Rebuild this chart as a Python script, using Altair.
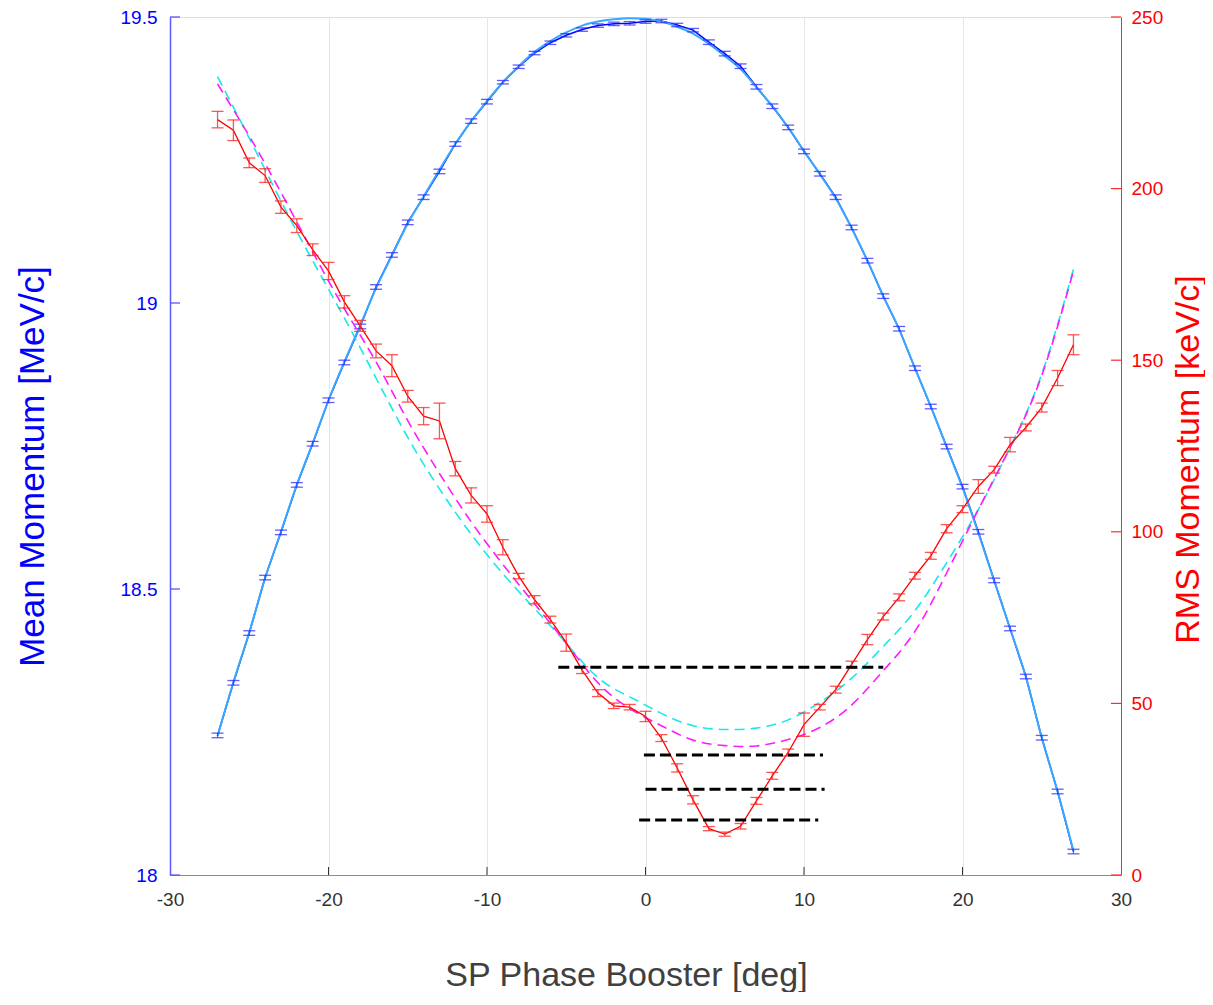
import altair as alt
import pandas as pd

# ---------------- data ----------------
phase = list(range(-27, 28))

mean_p = [18.244, 18.336, 18.423, 18.520, 18.599, 18.682, 18.754, 18.830, 18.896, 18.959,
          19.028, 19.084, 19.141, 19.185, 19.230, 19.278, 19.318, 19.352, 19.386, 19.413,
          19.437, 19.455, 19.468, 19.478, 19.485, 19.488, 19.489, 19.492, 19.493, 19.486,
          19.477, 19.456, 19.436, 19.414, 19.378, 19.344, 19.307, 19.265, 19.226, 19.185,
          19.132, 19.074, 19.012, 18.955, 18.886, 18.819, 18.749, 18.679, 18.600, 18.515,
          18.431, 18.347, 18.240, 18.146, 18.041]
mean_err = [0.004, 0.004, 0.004, 0.004, 0.004, 0.004, 0.004, 0.004, 0.004, 0.004,
            0.004, 0.004, 0.004, 0.004, 0.004, 0.004, 0.004, 0.004, 0.003, 0.003,
            0.003, 0.003, 0.003, 0.003, 0.003, 0.003, 0.003, 0.003, 0.003, 0.003,
            0.003, 0.004, 0.004, 0.004, 0.004, 0.004, 0.004, 0.004, 0.004, 0.004,
            0.004, 0.004, 0.004, 0.004, 0.004, 0.004, 0.004, 0.004, 0.004, 0.004,
            0.004, 0.004, 0.004, 0.004, 0.004]
mean_fit = [18.243, 18.337, 18.424, 18.519, 18.600, 18.682, 18.755, 18.830, 18.897, 18.961,
            19.026, 19.083, 19.139, 19.186, 19.233, 19.278, 19.318, 19.353, 19.386, 19.414,
            19.439, 19.458, 19.473, 19.485, 19.492, 19.496, 19.498, 19.497, 19.492, 19.483,
            19.471, 19.453, 19.432, 19.409, 19.377, 19.344, 19.307, 19.266, 19.225, 19.183,
            19.131, 19.074, 19.012, 18.954, 18.886, 18.819, 18.748, 18.677, 18.598, 18.514,
            18.431, 18.346, 18.240, 18.146, 18.042]

rms_p = [220.1, 217.0, 207.5, 203.8, 194.6, 189.2, 182.2, 176.0, 167.0, 160.0,
         152.7, 148.4, 139.5, 133.7, 132.3, 118.4, 110.6, 105.2, 95.5, 87.1,
         80.2, 74.4, 67.7, 59.7, 53.0, 49.3, 48.9, 46.2, 39.9, 31.2,
         21.9, 13.5, 11.9, 14.2, 21.6, 28.9, 35.7, 43.8, 48.9, 54.0,
         61.3, 68.6, 75.3, 80.9, 87.2, 93.0, 100.9, 106.6, 113.2, 118.1,
         125.4, 130.4, 136.2, 144.8, 154.5]
rms_err = [2.4, 3.0, 1.4, 2.0, 1.8, 2.0, 1.7, 2.5, 1.8, 1.6,
           2.0, 3.2, 1.7, 2.5, 5.2, 2.1, 2.2, 2.4, 2.2, 0.8,
           1.2, 1.0, 2.5, 1.0, 1.0, 0.8, 0.8, 1.5, 1.0, 1.2,
           1.2, 0.6, 0.6, 0.8, 1.0, 1.0, 1.0, 3.4, 0.8, 1.0,
           1.0, 1.5, 1.0, 1.0, 1.0, 1.0, 1.2, 1.0, 2.0, 1.0,
           2.1, 1.0, 1.3, 2.2, 2.9]

fit_x = [-27, -25, -23, -21, -19, -17, -15, -13, -11, -9, -7, -5, -3, -1,
         1, 3, 5, 7, 9, 11, 13, 15, 17, 19, 21, 23, 25, 27]
fit_cyan = [232.6, 214.7, 196.4, 179.0, 162.3, 144.8, 127.5, 112.5, 99.3, 87.8, 77.6, 67.5, 57.5, 51.9,
            47.1, 43.5, 42.4, 42.8, 45.2, 50.3, 57.3, 66.6, 77.0, 91.0, 106.5, 124.5, 146.0, 176.5]
fit_magenta = [230.5, 215.3, 198.9, 181.6, 165.0, 149.5, 132.4, 117.0, 102.9, 90.5, 79.0, 67.5, 56.0, 48.5,
               43.5, 39.3, 37.7, 37.6, 39.5, 43.0, 49.5, 59.5, 71.0, 88.0, 106.5, 124.5, 145.5, 176.0]

level_y = [60.5, 35.0, 25.0, 16.0]
level_x1 = [-5.5, -0.1, 0.0, -0.4]
level_x2 = [15.0, 11.2, 11.3, 10.9]

x_ticks = [-30, -20, -10, 0, 10, 20, 30]
left_ticks = [18, 18.5, 19, 19.5]
right_ticks = [0, 50, 100, 150, 200, 250]

# ---------------- tables ----------------
mean_df = pd.DataFrame({"x": phase, "v": mean_p, "fit": mean_fit,
                        "lo": [a - b for a, b in zip(mean_p, mean_err)],
                        "hi": [a + b for a, b in zip(mean_p, mean_err)]})
rms_df = pd.DataFrame({"x": phase, "v": rms_p,
                       "lo": [a - b for a, b in zip(rms_p, rms_err)],
                       "hi": [a + b for a, b in zip(rms_p, rms_err)]})
fit_df = pd.DataFrame({"x": fit_x, "c": fit_cyan, "m": fit_magenta})
lvl_df = pd.DataFrame({"y": level_y, "x1": level_x1, "x2": level_x2})
xt_df = pd.DataFrame({"v": x_ticks[1:-1]})
lt_df = pd.DataFrame({"v": left_ticks})
rt_df = pd.DataFrame({"v": right_ticks})

W, H = 951, 858
FONT = "Liberation Sans"

XD = [-30, 30]
LD = [18, 19.5]
RD = [0, 250]

x_axis = alt.Axis(values=x_ticks, grid=True, gridColor="#e6e6e6", ticks=False,
                  domainColor="#8c8c8c", labelFlush=False,
                  labelColor="#333333", labelFontSize=19, labelFont=FONT, labelPadding=15,
                  labelExpr="datum.value + ''",
                  title="SP Phase Booster [deg]", titleFont=FONT, titleFontSize=34,
                  titleFontWeight="normal", titleColor="#404040",
                  titleX=456, titleY=110, titleBaseline="alphabetic")

left_axis = alt.Axis(orient="left", values=left_ticks, grid=False, ticks=False,
                     domainColor="#5a5aff", domainWidth=1.5, labelFlush=False,
                     labelColor="#0000ff", labelFontSize=19, labelFont=FONT, labelPadding=13,
                     labelExpr="datum.value + ''",
                     title="Mean Momentum [MeV/c]", titleFont=FONT, titleFontSize=35,
                     titleFontWeight="normal", titleColor="#0000ff", titleAngle=270,
                     titleX=-127, titleY=449, titleBaseline="alphabetic")

right_axis = alt.Axis(orient="right", values=right_ticks, grid=False, ticks=False,
                      domainColor="#ff2a2a", labelFlush=False,
                      labelColor="#ff0000", labelFontSize=19, labelFont=FONT, labelPadding=10,
                      labelExpr="datum.value + ''",
                      title="RMS Momentum [keV/c]", titleFont=FONT, titleFontSize=34,
                      titleFontWeight="normal", titleColor="#ff0000", titleAngle=270,
                      titleX=77, titleY=442, titleBaseline="alphabetic")


def X(field):
    return alt.X(field, scale=alt.Scale(domain=XD, nice=False, zero=False), axis=x_axis)


def YL(field, axis=None):
    return alt.Y(field, scale=alt.Scale(domain=LD, nice=False, zero=False), axis=axis)


def YR(field, axis=None):
    return alt.Y(field, scale=alt.Scale(domain=RD, nice=False, zero=False), axis=axis)


mb = alt.Chart(mean_df)
rb = alt.Chart(rms_df)
fb = alt.Chart(fit_df)

# blue (left axis)
blue_line = mb.mark_line(color="#0000ff", strokeWidth=1.5).encode(
    x=X("x:Q"), y=YL("v:Q", left_axis))
blue_fit = mb.mark_line(color="#38a8ff", strokeWidth=2, interpolate="monotone").encode(
    x=X("x:Q"), y=YL("fit:Q"))
blue_bar = mb.mark_rule(color="#2a2aff", strokeWidth=1.2, opacity=0.7).encode(
    x=X("x:Q"), y=YL("lo:Q"), y2="hi:Q")
blue_cap_lo = mb.mark_tick(color="#2a2aff", orient="horizontal", size=12, thickness=1.3,
                           opacity=0.75).encode(x=X("x:Q"), y=YL("lo:Q"))
blue_cap_hi = mb.mark_tick(color="#2a2aff", orient="horizontal", size=12, thickness=1.3,
                           opacity=0.75).encode(x=X("x:Q"), y=YL("hi:Q"))
left_tk = alt.Chart(lt_df).mark_rule(color="#4a4aff", strokeWidth=1.2).encode(
    y=YL("v:Q"), x=alt.value(0), x2=alt.value(10))
bottom_tk = alt.Chart(xt_df).mark_rule(color="#333333", strokeWidth=1).encode(
    x=X("v:Q"), y=alt.value(H), y2=alt.value(H - 8))

# red (right axis)
cyan = fb.mark_line(color="#1ae8e8", strokeWidth=1.6, strokeDash=[10, 6], interpolate="natural").encode(
    x=X("x:Q"), y=YR("c:Q", right_axis))
magenta = fb.mark_line(color="#ff1aff", strokeWidth=1.6, strokeDash=[10, 6], interpolate="natural").encode(
    x=X("x:Q"), y=YR("m:Q"))
red_line = rb.mark_line(color="#ff0000", strokeWidth=1.3).encode(
    x=X("x:Q"), y=YR("v:Q"))
red_bar = rb.mark_rule(color="#ff2a2a", strokeWidth=1.3, opacity=0.8).encode(
    x=X("x:Q"), y=YR("lo:Q"), y2="hi:Q")
red_cap_lo = rb.mark_tick(color="#ff2a2a", orient="horizontal", size=12, thickness=1.3,
                          opacity=0.8).encode(x=X("x:Q"), y=YR("lo:Q"))
red_cap_hi = rb.mark_tick(color="#ff2a2a", orient="horizontal", size=12, thickness=1.3,
                          opacity=0.8).encode(x=X("x:Q"), y=YR("hi:Q"))
levels = alt.Chart(lvl_df).mark_rule(color="#000000", strokeWidth=3, strokeDash=[11, 5]).encode(
    x=X("x1:Q"), x2="x2:Q", y=YR("y:Q"))
right_tk = alt.Chart(rt_df).mark_rule(color="#ff2a2a", strokeWidth=1.2).encode(
    y=YR("v:Q"), x=alt.value(W), x2=alt.value(W - 10))

chart = alt.layer(
    blue_line, cyan,
    blue_fit, blue_bar, blue_cap_lo, blue_cap_hi, left_tk, bottom_tk,
    magenta, red_line, red_bar, red_cap_lo, red_cap_hi, levels, right_tk,
).resolve_scale(y="independent").properties(
    width=W, height=H,
    autosize=alt.AutoSizeParams(type="none"),
    padding={"left": 162, "top": 9, "right": 84, "bottom": 117},
    background="white",
).configure_view(stroke="#8c8c8c", strokeWidth=1.2).configure(font=FONT)

chart.save("out.html", embed_options={"renderer": "svg", "actions": False})
